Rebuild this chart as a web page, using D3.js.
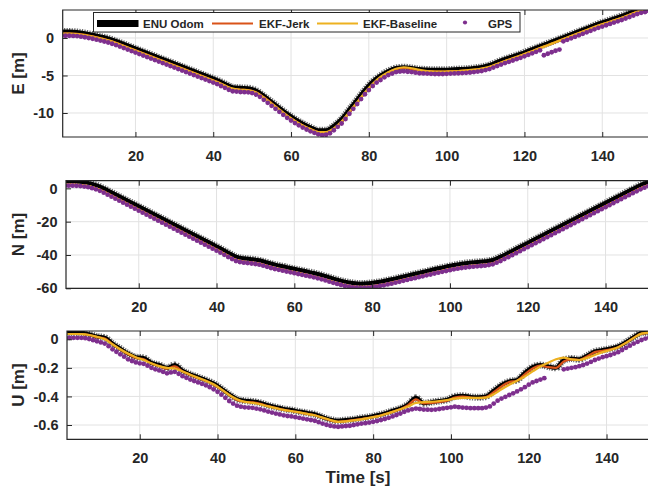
<!DOCTYPE html>
<html>
<head>
<meta charset="utf-8">
<script src="https://cdn.jsdelivr.net/npm/d3@7"></script>
<style>
  body { margin: 0; background: #fff; }
  svg { display: block; font-family: "Liberation Sans", Arial, Helvetica, sans-serif; font-weight: bold; }
</style>
</head>
<body>
<div id="chart"></div>
<script>
// sample times [s]: filter/odom curves every 2 s, GPS fixes every 1 s
var lineTime = d3.range(1, 154, 2);
var gpsTime = d3.range(1, 153, 1);

var seriesNames = ["ENU Odom", "EKF-Jerk", "EKF-Baseline", "GPS"];
var xTicks = [20, 40, 60, 80, 100, 120, 140];
var eTicks = [-10, -5, 0];
var nTicks = [-60, -40, -20, 0];
var uTicks = [-0.6, -0.4, -0.2, 0];

/* East [m] */
var odomE = [0.85,0.85,0.8,0.65,0.45,0.2,-0.05,-0.4,-0.8,-1.2,
  -1.6,-2.0,-2.4,-2.8,-3.2,-3.6,-4.0,-4.4,-4.8,-5.2,
  -5.6,-6.1,-6.55,-6.65,-6.7,-7.0,-7.7,-8.5,-9.3,-10.1,
  -10.8,-11.4,-11.9,-12.3,-12.3,-11.7,-10.8,-9.5,-8.2,-6.9,
  -5.8,-5.0,-4.4,-4.0,-3.9,-4.0,-4.15,-4.2,-4.25,-4.25,
  -4.2,-4.15,-4.1,-4.0,-3.85,-3.6,-3.2,-2.8,-2.45,-2.1,
  -1.7,-1.3,-0.9,-0.5,-0.1,0.3,0.7,1.1,1.5,1.9,
  2.25,2.6,2.95,3.35,3.75,4.0,4.2];
var jerkE = [0.6,0.6,0.55,0.42,0.22,-0.03,-0.3,-0.65,-1.05,-1.45,
  -1.85,-2.25,-2.65,-3.05,-3.45,-3.85,-4.25,-4.65,-5.05,-5.45,
  -5.85,-6.35,-6.77,-6.9,-6.95,-7.25,-7.9,-8.7,-9.55,-10.35,
  -11.05,-11.65,-12.15,-12.55,-12.6,-12.1,-11.25,-9.95,-8.65,-7.35,
  -6.2,-5.3,-4.6,-4.15,-4.0,-4.15,-4.35,-4.43,-4.48,-4.49,
  -4.45,-4.4,-4.35,-4.25,-4.1,-3.87,-3.47,-3.07,-2.72,-2.35,
  -1.95,-1.55,-1.15,-0.75,-0.35,0.05,0.45,0.85,1.25,1.65,
  2.0,2.35,2.7,3.1,3.5,3.75,3.95];
var baseE = [0.58,0.58,0.53,0.4,0.2,-0.05,-0.32,-0.67,-1.07,-1.47,
  -1.87,-2.27,-2.67,-3.07,-3.47,-3.87,-4.27,-4.67,-5.07,-5.47,
  -5.87,-6.35,-6.75,-6.9,-6.97,-7.27,-7.95,-8.75,-9.55,-10.35,
  -11.05,-11.65,-12.15,-12.55,-12.55,-12.05,-11.15,-9.85,-8.55,-7.25,
  -6.1,-5.2,-4.55,-4.1,-3.9,-4.03,-4.25,-4.4,-4.47,-4.49,
  -4.45,-4.4,-4.33,-4.23,-4.07,-3.85,-3.47,-3.07,-2.72,-2.35,
  -1.95,-1.55,-1.15,-0.75,-0.35,0.05,0.45,0.85,1.25,1.65,
  2.0,2.35,2.7,3.1,3.5,3.75,3.95];
var gpsE = [0.3,0.3,0.3,0.28,0.25,0.18,0.1,0.0,-0.1,-0.22,
  -0.35,-0.47,-0.6,-0.77,-0.95,-1.15,-1.35,-1.55,-1.75,-1.95,
  -2.15,-2.35,-2.55,-2.75,-2.95,-3.15,-3.35,-3.55,-3.75,-3.95,
  -4.15,-4.35,-4.55,-4.75,-4.95,-5.15,-5.35,-5.55,-5.75,-5.95,
  -6.15,-6.4,-6.65,-6.9,-7.1,-7.15,-7.2,-7.22,-7.25,-7.35,
  -7.55,-7.85,-8.25,-8.65,-9.05,-9.45,-9.85,-10.25,-10.65,-11.0,
  -11.35,-11.65,-11.95,-12.2,-12.45,-12.65,-12.85,-12.95,-12.9,-12.7,
  -12.3,-11.85,-11.4,-10.8,-10.1,-9.45,-8.8,-8.15,-7.5,-6.95,
  -6.4,-5.95,-5.6,-5.25,-4.95,-4.75,-4.55,-4.48,-4.45,-4.5,
  -4.55,-4.62,-4.7,-4.72,-4.75,-4.78,-4.8,-4.8,-4.8,-4.78,
  -4.75,-4.72,-4.7,-4.68,-4.65,-4.6,-4.55,-4.48,-4.4,-4.28,
  -4.15,-3.95,-3.75,-3.55,-3.35,-3.18,-3.0,-2.82,-2.65,-2.45,
  -2.25,-2.05,-1.85,-1.65,-2.3,-2.1,-1.9,-1.7,-1.55,-0.45,
  -0.25,-0.05,0.15,0.35,0.55,0.75,0.95,1.15,1.35,1.52,
  1.7,1.87,2.05,2.22,2.4,2.6,2.8,3.0,3.2,3.35,
  3.45,3.6];

/* North [m] */
var odomN = [4.2,4.2,4.0,3.3,2.0,0.0,-2.4,-4.8,-7.2,-9.6,
  -12.0,-14.4,-16.8,-19.2,-21.6,-24.0,-26.4,-28.8,-31.2,-33.6,
  -36.0,-38.6,-41.0,-42.0,-42.5,-43.2,-44.5,-45.8,-46.8,-47.8,
  -48.8,-49.8,-50.8,-52.0,-53.4,-54.8,-56.0,-56.8,-57.2,-57.0,
  -56.4,-55.6,-54.6,-53.5,-52.4,-51.3,-50.2,-49.1,-48.0,-47.0,
  -46.0,-45.2,-44.6,-44.2,-43.8,-43.0,-41.0,-38.7,-36.3,-33.9,
  -31.5,-29.1,-26.7,-24.3,-21.9,-19.5,-17.1,-14.7,-12.3,-9.9,
  -7.5,-5.1,-2.7,-0.3,2.0,4.0,6.0];
var jerkN = [2.2,2.2,2.0,1.4,0.1,-1.9,-4.3,-6.7,-9.1,-11.5,
  -13.9,-16.3,-18.7,-21.1,-23.5,-25.9,-28.3,-30.7,-33.1,-35.5,
  -37.9,-40.5,-42.9,-44.0,-44.5,-45.2,-46.5,-47.8,-48.8,-49.8,
  -50.8,-51.8,-52.8,-54.0,-55.4,-56.8,-58.0,-58.8,-59.2,-59.0,
  -58.4,-57.6,-56.6,-55.5,-54.4,-53.3,-52.2,-51.1,-50.0,-49.0,
  -48.0,-47.2,-46.6,-46.2,-45.8,-45.0,-43.0,-40.7,-38.3,-35.9,
  -33.5,-31.1,-28.7,-26.3,-23.9,-21.5,-19.1,-16.7,-14.3,-11.9,
  -9.5,-7.1,-4.7,-2.3,0.0,2.0,4.0];
var baseN = [2.1,2.1,1.9,1.3,0.0,-2.0,-4.4,-6.8,-9.2,-11.6,
  -14.0,-16.4,-18.8,-21.2,-23.6,-26.0,-28.4,-30.8,-33.2,-35.6,
  -38.0,-40.6,-43.0,-44.1,-44.6,-45.3,-46.6,-47.9,-48.9,-49.9,
  -50.9,-51.9,-52.9,-54.1,-55.5,-56.9,-58.1,-58.9,-59.3,-59.1,
  -58.5,-57.7,-56.7,-55.6,-54.5,-53.4,-52.3,-51.2,-50.1,-49.1,
  -48.1,-47.3,-46.7,-46.3,-45.9,-45.1,-43.1,-40.8,-38.4,-36.0,
  -33.6,-31.2,-28.8,-26.4,-24.0,-21.6,-19.2,-16.8,-14.4,-12.0,
  -9.6,-7.2,-4.8,-2.4,-0.1,1.9,3.9];
var gpsN = [1.6,1.6,1.6,1.55,1.4,1.1,0.7,0.1,-0.6,-1.5,
  -2.6,-3.8,-5.0,-6.2,-7.4,-8.6,-9.8,-11.0,-12.2,-13.4,
  -14.6,-15.8,-17.0,-18.2,-19.4,-20.6,-21.8,-23.0,-24.2,-25.4,
  -26.6,-27.8,-29.0,-30.2,-31.4,-32.6,-33.8,-35.0,-36.2,-37.4,
  -38.6,-39.9,-41.2,-42.4,-43.6,-44.2,-44.6,-44.85,-45.1,-45.4,
  -45.8,-46.4,-47.1,-47.8,-48.4,-48.9,-49.4,-49.9,-50.4,-50.9,
  -51.4,-51.9,-52.4,-52.9,-53.4,-54.0,-54.6,-55.3,-56.0,-56.7,
  -57.4,-58.0,-58.6,-59.0,-59.4,-59.6,-59.8,-59.7,-59.6,-59.3,
  -59.0,-58.6,-58.2,-57.7,-57.2,-56.6,-56.1,-55.5,-55.0,-54.4,
  -53.9,-53.3,-52.8,-52.2,-51.7,-51.1,-50.6,-50.1,-49.6,-49.1,
  -48.6,-48.2,-47.8,-47.5,-47.2,-47.0,-46.8,-46.6,-46.4,-46.0,
  -45.6,-44.6,-43.6,-42.4,-41.3,-40.1,-38.9,-37.7,-36.5,-35.3,
  -34.1,-32.9,-31.7,-30.5,-29.3,-28.1,-26.9,-25.7,-24.5,-23.3,
  -22.1,-20.9,-19.7,-18.5,-17.3,-16.1,-14.9,-13.7,-12.5,-11.3,
  -10.1,-8.9,-7.7,-6.5,-5.3,-4.1,-2.9,-1.75,-0.6,0.4,
  1.4,2.4];

/* Up [m] */
var odomU = [0.045,0.045,0.045,0.035,0.02,0.012,-0.03,-0.065,-0.10,-0.125,
  -0.13,-0.165,-0.18,-0.20,-0.18,-0.22,-0.245,-0.265,-0.285,-0.31,
  -0.345,-0.385,-0.418,-0.43,-0.435,-0.445,-0.462,-0.475,-0.487,-0.495,
  -0.506,-0.515,-0.525,-0.545,-0.562,-0.57,-0.565,-0.56,-0.55,-0.543,
  -0.532,-0.518,-0.50,-0.483,-0.455,-0.41,-0.448,-0.44,-0.432,-0.423,
  -0.40,-0.395,-0.403,-0.406,-0.40,-0.36,-0.32,-0.295,-0.285,-0.235,
  -0.195,-0.18,-0.19,-0.20,-0.145,-0.135,-0.14,-0.115,-0.085,-0.075,
  -0.065,-0.05,-0.02,0.015,0.045,0.05,0.055];
var jerkU = [0.037,0.037,0.037,0.03,0.015,0.005,-0.035,-0.072,-0.105,-0.13,
  -0.14,-0.17,-0.188,-0.205,-0.19,-0.225,-0.25,-0.272,-0.292,-0.318,
  -0.352,-0.39,-0.425,-0.437,-0.442,-0.452,-0.468,-0.482,-0.494,-0.502,
  -0.512,-0.522,-0.532,-0.55,-0.568,-0.578,-0.573,-0.566,-0.558,-0.55,
  -0.54,-0.525,-0.508,-0.49,-0.462,-0.42,-0.448,-0.445,-0.438,-0.43,
  -0.408,-0.402,-0.408,-0.412,-0.405,-0.37,-0.33,-0.3,-0.29,-0.245,
  -0.205,-0.185,-0.195,-0.2,-0.155,-0.14,-0.145,-0.12,-0.09,-0.08,
  -0.07,-0.055,-0.025,0.01,0.04,0.045,0.05];
var baseU = [0.037,0.037,0.036,0.03,0.018,0.0,-0.035,-0.07,-0.1,-0.125,
  -0.145,-0.168,-0.188,-0.2,-0.205,-0.225,-0.248,-0.27,-0.29,-0.315,
  -0.35,-0.39,-0.42,-0.438,-0.445,-0.455,-0.47,-0.482,-0.494,-0.503,
  -0.512,-0.522,-0.532,-0.548,-0.565,-0.578,-0.575,-0.568,-0.56,-0.55,
  -0.54,-0.525,-0.508,-0.49,-0.47,-0.445,-0.44,-0.437,-0.432,-0.425,
  -0.415,-0.41,-0.41,-0.41,-0.408,-0.385,-0.35,-0.318,-0.29,-0.26,
  -0.225,-0.19,-0.165,-0.14,-0.128,-0.14,-0.145,-0.13,-0.11,-0.09,
  -0.075,-0.055,-0.025,0.01,0.04,0.048,0.05];
var gpsU = [0.01,0.01,0.01,0.01,0.01,0.008,0.002,-0.006,-0.014,-0.022,
  -0.03,-0.048,-0.07,-0.088,-0.105,-0.122,-0.14,-0.152,-0.162,-0.168,
  -0.172,-0.185,-0.2,-0.21,-0.218,-0.228,-0.238,-0.232,-0.228,-0.242,
  -0.258,-0.27,-0.282,-0.292,-0.302,-0.312,-0.322,-0.335,-0.35,-0.368,
  -0.388,-0.41,-0.432,-0.45,-0.465,-0.472,-0.476,-0.478,-0.48,-0.485,
  -0.49,-0.498,-0.506,-0.513,-0.52,-0.526,-0.532,-0.537,-0.54,-0.545,
  -0.55,-0.555,-0.56,-0.565,-0.57,-0.58,-0.59,-0.598,-0.605,-0.61,
  -0.612,-0.61,-0.607,-0.605,-0.6,-0.595,-0.59,-0.587,-0.583,-0.578,
  -0.572,-0.565,-0.558,-0.55,-0.54,-0.53,-0.52,-0.508,-0.498,-0.49,
  -0.485,-0.488,-0.492,-0.493,-0.494,-0.492,-0.488,-0.484,-0.48,-0.476,
  -0.472,-0.475,-0.478,-0.48,-0.482,-0.482,-0.482,-0.482,-0.478,-0.47,
  -0.45,-0.43,-0.415,-0.403,-0.39,-0.378,-0.365,-0.35,-0.335,-0.318,
  -0.302,-0.292,-0.282,-0.272,null,null,null,null,-0.21,-0.205,
  -0.2,-0.195,-0.188,-0.18,-0.17,-0.158,-0.145,-0.135,-0.125,-0.118,
  -0.11,-0.1,-0.09,-0.075,-0.06,-0.045,-0.03,-0.018,-0.005,0.005,
  0.012,0.015];

var width = 648, height = 496;
var tMin = 1.3, pxPerSec = 3.89, plotRight = 656;
var axisColor = "#262626", gridColor = "#e2e2e2";
var colors = { odom: "#000000", jerk: "#D95319", base: "#EDB120", gps: "#7E2F8E" };

var panels = [
  { label: "E [m]", left: 62.7, top: 10, bottom: 137, yDomain: [-13.2, 3.73], yTicks: eTicks,
    odom: odomE, jerk: jerkE, base: baseE, gps: gpsE },
  { label: "N [m]", left: 66, top: 180.7, bottom: 288.3, yDomain: [-60, 4.6], yTicks: nTicks,
    odom: odomN, jerk: jerkN, base: baseN, gps: gpsN },
  { label: "U [m]", left: 67, top: 331, bottom: 439.3, yDomain: [-0.70, 0.058], yTicks: uTicks,
    odom: odomU, jerk: jerkU, base: baseU, gps: gpsU }
];

var svg = d3.select("#chart").append("svg")
  .attr("width", width)
  .attr("height", height);

var fmt = d => String(+d.toFixed(1));

panels.forEach(function (p, i) {
  var x = d3.scaleLinear()
    .domain([tMin, tMin + (plotRight - p.left) / pxPerSec])
    .range([p.left, plotRight]);
  var y = d3.scaleLinear().domain(p.yDomain).range([p.bottom, p.top]);

  svg.append("clipPath").attr("id", "clip" + i)
    .append("rect")
    .attr("x", p.left).attr("y", p.top)
    .attr("width", plotRight - p.left).attr("height", p.bottom - p.top);

  var g = svg.append("g");

  // grid
  g.append("g").selectAll("line").data(xTicks).join("line")
    .attr("x1", d => x(d)).attr("x2", d => x(d))
    .attr("y1", p.top).attr("y2", p.bottom)
    .attr("stroke", gridColor);
  g.append("g").selectAll("line").data(p.yTicks).join("line")
    .attr("x1", p.left).attr("x2", plotRight)
    .attr("y1", d => y(d)).attr("y2", d => y(d))
    .attr("stroke", gridColor);

  var plot = g.append("g").attr("clip-path", "url(#clip" + i + ")");
  var line = d3.line()
    .defined(d => d[1] != null)
    .x(d => x(d[0]))
    .y(d => y(d[1]))
    .curve(d3.curveMonotoneX);
  var pairs = arr => lineTime.map((t, k) => [t, arr[k]]);

  // ENU odom: thick black with a speckled grey halo
  plot.append("path").attr("d", line(pairs(p.odom)))
    .attr("fill", "none").attr("stroke", "#6e6e6e")
    .attr("stroke-width", 7).attr("stroke-dasharray", "1.3,1.2");
  plot.append("path").attr("d", line(pairs(p.odom)))
    .attr("fill", "none").attr("stroke", colors.odom).attr("stroke-width", 4);
  plot.append("path").attr("d", line(pairs(p.jerk)))
    .attr("fill", "none").attr("stroke", colors.jerk).attr("stroke-width", 2.2);
  plot.append("path").attr("d", line(pairs(p.base)))
    .attr("fill", "none").attr("stroke", colors.base).attr("stroke-width", 2.2);

  var gpsPts = gpsTime.map((t, k) => [t, p.gps[k]]).filter(d => d[1] != null);
  plot.append("g").selectAll("circle").data(gpsPts).join("circle")
    .attr("cx", d => x(d[0])).attr("cy", d => y(d[1]))
    .attr("r", 2.4).attr("fill", colors.gps);

  // axes (ticks point inward like MATLAB)
  var styleAxis = function (sel) {
    sel.select(".domain").remove();
    sel.selectAll(".tick line").attr("stroke", axisColor);
    sel.selectAll(".tick text")
      .attr("fill", axisColor)
      .style("font-size", "14.5px")
      .style("font-weight", "bold")
      .style("font-family", '"Liberation Sans", Arial, Helvetica, sans-serif');
  };
  g.append("g").attr("transform", "translate(0," + p.bottom + ")")
    .call(d3.axisBottom(x).tickValues(xTicks).tickSize(-5).tickPadding(13.5).tickFormat(fmt))
    .call(styleAxis);
  g.append("g").attr("transform", "translate(0," + p.top + ")")
    .call(d3.axisTop(x).tickValues(xTicks).tickSize(-5).tickFormat(""))
    .call(styleAxis);
  g.append("g").attr("transform", "translate(" + p.left + ",0)")
    .call(d3.axisLeft(y).tickValues(p.yTicks).tickSize(-5).tickPadding(8.5).tickFormat(fmt))
    .call(styleAxis);

  // frame (left, top, bottom; right edge lies past the window)
  g.append("path")
    .attr("d", "M" + plotRight + "," + p.top + "H" + p.left + "V" + p.bottom + "H" + plotRight)
    .attr("fill", "none").attr("stroke", axisColor).attr("stroke-width", 1.2);

  g.append("text")
    .attr("transform", "translate(17.5," + (p.top + p.bottom) / 2 + ") rotate(-90)")
    .attr("text-anchor", "middle").attr("dy", "0.36em")
    .attr("fill", axisColor).style("font-size", "17px")
    .text(p.label);
});

svg.append("text")
  .attr("x", 358).attr("y", 483)
  .attr("text-anchor", "middle")
  .attr("fill", axisColor).style("font-size", "17px")
  .text("Time [s]");

// legend
var legend = svg.append("g");
legend.append("rect")
  .attr("x", 93.5).attr("y", 12.5).attr("width", 426.5).attr("height", 19.5)
  .attr("fill", "#fff").attr("stroke", axisColor).attr("stroke-width", 1);
var legendItems = [
  { name: seriesNames[0], color: colors.odom, kind: "bar", x0: 97, x1: 138.5, tx: 143 },
  { name: seriesNames[1], color: colors.jerk, kind: "line", x0: 212, x1: 253, tx: 259 },
  { name: seriesNames[2], color: colors.base, kind: "line", x0: 317, x1: 358, tx: 363 },
  { name: seriesNames[3], color: colors.gps, kind: "dot", x0: 465, x1: 465, tx: 488 }
];
legendItems.forEach(function (d) {
  if (d.kind === "bar") {
    legend.append("line").attr("x1", d.x0).attr("x2", d.x1).attr("y1", 23.5).attr("y2", 23.5)
      .attr("stroke", d.color).attr("stroke-width", 7);
  } else if (d.kind === "line") {
    legend.append("line").attr("x1", d.x0).attr("x2", d.x1).attr("y1", 23.5).attr("y2", 23.5)
      .attr("stroke", d.color).attr("stroke-width", 2);
  } else {
    legend.append("circle").attr("cx", d.x0).attr("cy", 22.5).attr("r", 2.1).attr("fill", d.color);
  }
  legend.append("text")
    .attr("x", d.tx).attr("y", 28)
    .attr("fill", axisColor).style("font-size", "11.5px")
    .text(d.name);
});
</script>
</body>
</html>
